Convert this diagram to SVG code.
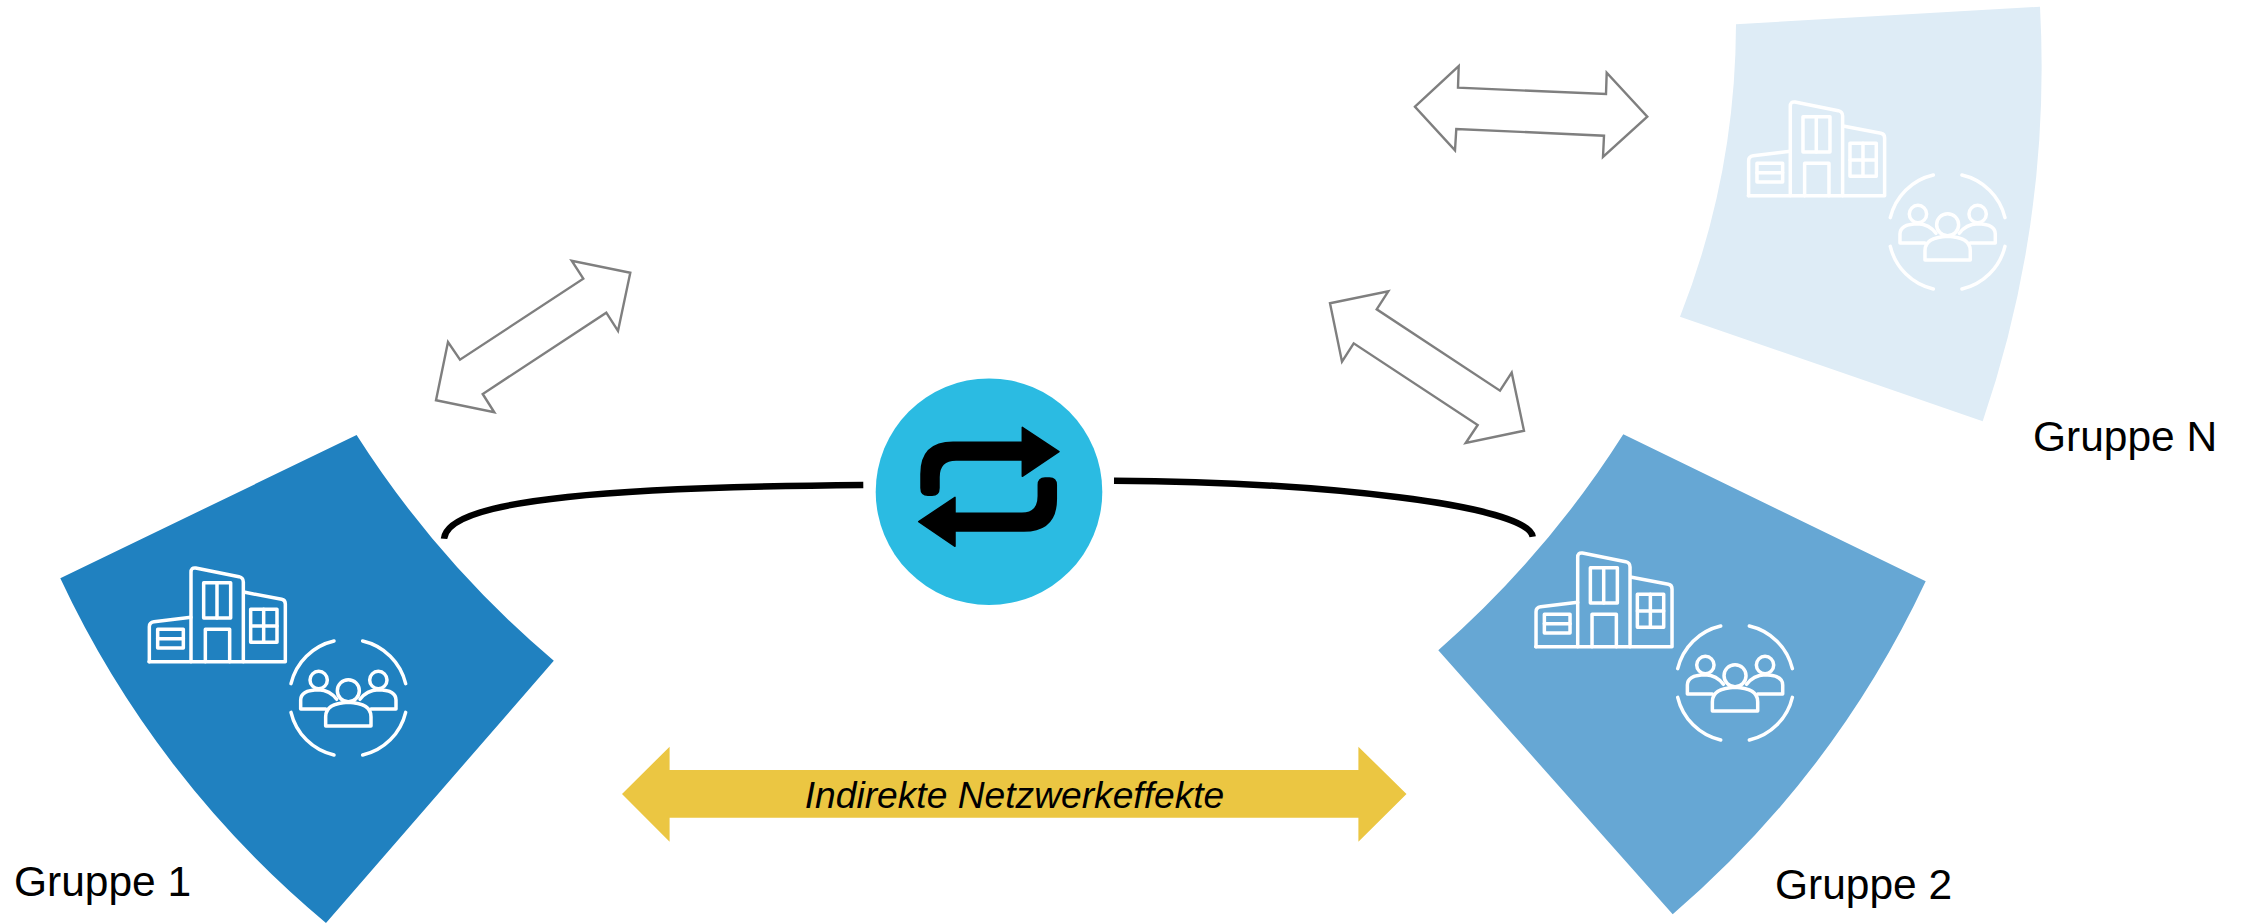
<svg xmlns="http://www.w3.org/2000/svg" xmlns:xlink="http://www.w3.org/1999/xlink" width="2246" height="923" viewBox="0 0 2246 923">
<style>
text{font-family:"Liberation Sans",Arial,sans-serif;fill:#000}
.lbl{font-size:42.5px}
.dbl{fill:#fff;stroke:#7f7f7f;stroke-width:2.4;stroke-linejoin:miter}
.curve{fill:none;stroke:#000;stroke-width:6.5}
.ic{fill:none;stroke:#fff;stroke-width:10.5;stroke-linejoin:round;stroke-linecap:round}
</style>
<defs>
<g id="icons" transform="translate(130,540) scale(.33333)" class="ic">
<path d="M57,365H466V192Q466,180 455,178L345,157"/>
<path d="M183,365V97Q183,82 197,84L327,110Q340,113 340,126V365"/>
<path d="M183,232L72,245Q58,247 58,260V365"/>
<rect x="221" y="128" width="81" height="106"/><path d="M261,128V234"/>
<path d="M226,365V268H299V365"/>
<rect x="362" y="208" width="79" height="99"/><path d="M401,208V307M362,258H441"/>
<rect x="83" y="268" width="77" height="56"/><path d="M83,296H160"/>
<path d="M483,431A172,172 0 0 1 612,303M698,303A172,172 0 0 1 827,431M483,517A172,172 0 0 0 612,645M698,645A172,172 0 0 0 827,517"/>
<circle cx="655" cy="452" r="33"/>
<path d="M587,558V530Q587,490 655,487Q723,490 723,530V558Z"/>
<circle cx="566" cy="420" r="26"/>
<path d="M587,507H512V480Q512,450 566,449Q600,450 620,478"/>
<circle cx="745" cy="420" r="26"/>
<path d="M723,507H798V480Q798,450 745,449Q710,450 690,478"/>
</g>
</defs>
<rect width="2246" height="923" fill="#fff"/>
<g id="connectors">
<path class="curve" d="M444,538.7C448,497 630,487 863.3,485"/>
<path class="curve" d="M1532.7,536.7C1528,505 1320,482 1114,480.7"/>
<polygon class="dbl" points="1415,106.7 1458.7,66 1458,87.7 1606,94 1606.7,72.7 1647.3,116.7 1603,157 1604,135.7 1456.3,129 1455,150.3"/>
<polygon class="dbl" points="436,400.3 448,342 460,359.7 583.3,278.7 571.7,260.7 630.3,272.7 618,331 606.3,312.7 482.7,394 494.3,412.3"/>
<polygon class="dbl" points="1330,303.3 1388.3,291.3 1376.7,309.3 1500,390.7 1511.7,372.7 1524,430.7 1465.7,443 1477.7,425 1353.7,343.3 1342,361.7"/>
</g>
<g id="gruppe-1">
<path fill="#2081c0" d="M356.6,435L60.3,578.3A1000,1000 0 0 0 326,923L553.8,660.7A1000,1000 0 0 1 356.6,435Z"/>
<use xlink:href="#icons" href="#icons"/>
<text class="lbl" x="14" y="896">Gruppe 1</text>
</g>
<g id="gruppe-2">
<path fill="#66a7d4" d="M1623.3,434.3L1925.7,581.3A1000,1000 0 0 1 1672.7,914.3L1438.3,650.3A1000,1000 0 0 0 1623.3,434.3Z"/>
<use xlink:href="#icons" href="#icons" transform="translate(1386.7,-15)"/>
<text class="lbl" x="1775" y="899">Gruppe 2</text>
</g>
<g id="gruppe-n">
<path fill="#deecf6" d="M1736,24.3L2040,6.7A1100,1100 0 0 1 1982.7,421.3L1680,316.7A800,800 0 0 0 1736,24.3Z"/>
<use xlink:href="#icons" href="#icons" transform="translate(1599.3,-466)"/>
<text class="lbl" x="2033" y="451">Gruppe N</text>
</g>
<g id="plattform">
<circle cx="989" cy="491.7" r="113.3" fill="#2bbbe2"/>
<path fill="#000" stroke="#000" stroke-width="1.5" stroke-linejoin="round" d="M1059,451.7L1022.3,427.3V442.3H953Q921,442.3 921,474V488Q921,495.3 928,495.3H932Q939,495.3 939,488V477Q939,460 956,460H1022.3V476.3Z"/>
<path fill="#000" stroke="#000" stroke-width="1.5" stroke-linejoin="round" d="M918.7,521.7L955,497.3V513.3H1022Q1038.3,513.3 1038.3,496V485Q1038.3,478 1045,478H1049.5Q1056.3,478 1056.3,485V499Q1056.3,531 1024,531H955V546.3Z"/>
</g>
<g id="netzwerkeffekte">
<polygon fill="#ebc642" points="622,794 669.6,746.7 669.6,770 1358.4,770 1358.4,746.7 1406.5,794 1358.4,841.7 1358.4,817.7 669.6,817.7 669.6,841.7"/>
<text x="1014.5" y="807.5" font-size="37.2" font-style="italic" text-anchor="middle">Indirekte Netzwerkeffekte</text>
</g>
</svg>
